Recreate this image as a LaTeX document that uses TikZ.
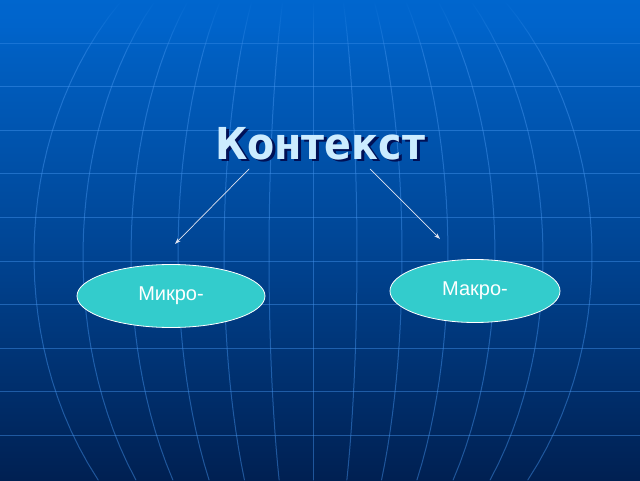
\documentclass[tikz,border=0pt]{standalone}
\usepackage{fontspec}
\setmainfont{Liberation Sans}
\newfontfamily\titlefont{DejaVu Sans Condensed}
\usepackage{tikz}
\usetikzlibrary{shapes.geometric,arrows.meta,fadings}
\definecolor{bgtop}{RGB}{0,102,206}
\definecolor{bgmid}{RGB}{0,70,150}
\definecolor{bgbot}{RGB}{0,32,82}
\definecolor{gridblue}{RGB}{70,150,240}
\definecolor{turq}{RGB}{51,204,204}
\definecolor{titlecol}{RGB}{204,236,255}

\begin{document}
\begin{tikzpicture}[x=1pt,y=1pt,line cap=round,
  gridline/.style={gridblue,line width=1pt,opacity=0.45},
  pointer/.style={draw={rgb,255:red,225;green,228;blue,240},line width=0.7pt,
    -{Stealth[length=6pt,width=4pt]}},
  oval/.style={ellipse,draw=white,line width=0.8pt,fill=turq,inner sep=0pt,
    text=white,font=\fontsize{20}{24}\selectfont},
  heading/.style={anchor=base,font=\titlefont\bfseries\fontsize{44}{52}\selectfont}]
\def\W{640} \def\H{480}
\def\cy{224} \def\R{351}
\useasboundingbox (0,0) rectangle (\W,\H);
% background
\shade[top color=bgtop,bottom color=bgbot,middle color=bgmid] (0,0) rectangle (\W,\H);
% globe grid: parallels
\foreach \k in {1,...,10}
  \draw[gridline] (0,{\H-43.5*\k}) -- (\W,{\H-43.5*\k});
% globe grid: meridians
\draw[gridline] (313,0) -- (313,\H);
\foreach \k in {1,...,6}{
  \pgfmathsetmacro{\d}{44*\k+0.5*\k*(\k-1)}
  \draw[gridline] plot[domain=0:\H,samples=30,variable=\t]
    ({313+\d*sqrt(1-((\t-\cy)/\R)^2)},\t);
  \draw[gridline] plot[domain=0:\H,samples=30,variable=\t]
    ({313-\d*sqrt(1-((\t-\cy)/\R)^2)},\t);
}
% fade grid at the top
\fill[bgtop,path fading=south] (0,425) rectangle (\W,\H);
% title with shadow
\node[heading,text=black!75!blue,opacity=0.8] at (323,318) {Контекст};
\node[heading,text=titlecol] (kontekst) at (320,320) {Контекст};
% ovals
\node[oval,minimum width=188,minimum height=63] (mikro) at (171,184) {Микро-};
\node[oval,minimum width=170,minimum height=63] (makro) at (475,189) {Макро-};
% arrows
\coordinate (startL) at (249,311);
\coordinate (tipL) at (175,236);
\coordinate (startR) at (370,311);
\coordinate (tipR) at (440,241);
\draw[pointer] (startL) -- (tipL);
\draw[pointer] (startR) -- (tipR);
\end{tikzpicture}
\end{document}
